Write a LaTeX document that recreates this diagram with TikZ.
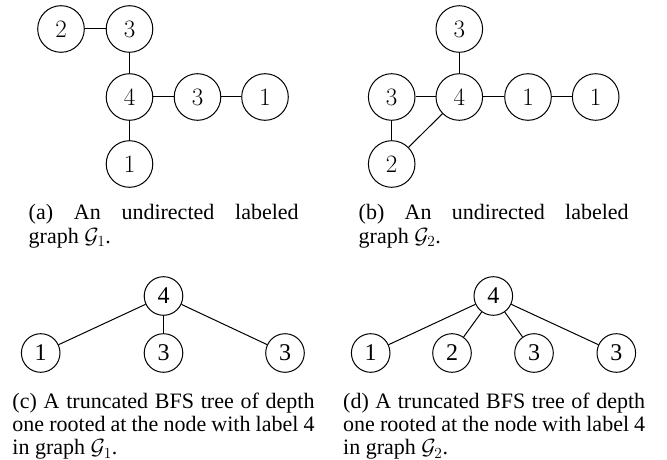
\RequirePackage{fix-cm}
\documentclass[tikz,border=0pt]{standalone}
\usepackage[no-math]{fontspec}
\setmainfont{Liberation Serif}
\tikzset{
  gnode/.style={circle, draw, line width=1pt, minimum size=46.6pt, inner sep=0pt,
                font=\fontsize{25}{30}\selectfont},
  tnode/.style={circle, draw, line width=1pt, minimum size=38.6pt, inner sep=0pt,
                font=\fontsize{24}{28}\selectfont},
  edge/.style={line width=1pt},
  captext/.style={anchor=north west, inner sep=0pt, align=justify,
                  font=\fontsize{22}{23.3}\selectfont}
}
\begin{document}
\begin{tikzpicture}[x=1pt, y=-1pt]
\useasboundingbox (0,0) rectangle (667,460);

% graph G1
\node[gnode] (a2)  at (61,29)    {$2$};
\node[gnode] (a3)  at (129.5,29) {$3$};
\node[gnode] (a4)  at (129.5,97) {$4$};
\node[gnode] (a3r) at (197.5,97) {$3$};
\node[gnode] (a1r) at (265,97)   {$1$};
\node[gnode] (a1b) at (129.5,164){$1$};
\draw[edge] (a2) -- (a3);
\draw[edge] (a3) -- (a4);
\draw[edge] (a4) -- (a3r);
\draw[edge] (a3r) -- (a1r);
\draw[edge] (a4) -- (a1b);

% graph G2
\node[gnode] (b3t) at (459.3,29) {$3$};
\node[gnode] (b3l) at (391.7,97) {$3$};
\node[gnode] (b4)  at (459.3,97) {$4$};
\node[gnode] (b1a) at (528,97)   {$1$};
\node[gnode] (b1b) at (595.7,97) {$1$};
\node[gnode] (b2)  at (391.7,164){$2$};
\draw[edge] (b3t) -- (b4);
\draw[edge] (b3l) -- (b4);
\draw[edge] (b4) -- (b1a);
\draw[edge] (b1a) -- (b1b);
\draw[edge] (b3l) -- (b2);
\draw[edge] (b2) -- (b4);

% captions of the two graphs
\node[captext, text width=270pt] (capa) at (28.5,204.5)
  {(a) An undirected labeled\linebreak graph $\mathcal{G}_1$.};
\node[captext, text width=270pt] (capb) at (358.5,204.5)
  {(b) An undirected labeled\linebreak graph $\mathcal{G}_2$.};

% BFS tree of G1
\node[tnode] (c4) at (163.5,296) {4};
\node[tnode] (c1) at (40.7,353)  {1};
\node[tnode] (c3) at (163.5,353) {3};
\node[tnode] (c3r) at (285,353)  {3};
\draw[edge] (c4) -- (c1);
\draw[edge] (c4) -- (c3);
\draw[edge] (c4) -- (c3r);

% BFS tree of G2
\node[tnode] (d4) at (493.3,296) {4};
\node[tnode] (d1) at (370.7,353) {1};
\node[tnode] (d2) at (452,353)   {2};
\node[tnode] (d3) at (534,353)   {3};
\node[tnode] (d3r) at (616.3,353){3};
\draw[edge] (d4) -- (d1);
\draw[edge] (d4) -- (d2);
\draw[edge] (d4) -- (d3);
\draw[edge] (d4) -- (d3r);

% captions of the two trees
\node[captext, text width=302pt] (capc) at (12.3,392.5)
  {(c) A truncated BFS tree of depth\linebreak one rooted at the node with label 4\linebreak in graph $\mathcal{G}_1$.};
\node[captext, text width=302pt] (capd) at (343,392.5)
  {(d) A truncated BFS tree of depth\linebreak one rooted at the node with label 4\linebreak in graph $\mathcal{G}_2$.};
\end{tikzpicture}
\end{document}
